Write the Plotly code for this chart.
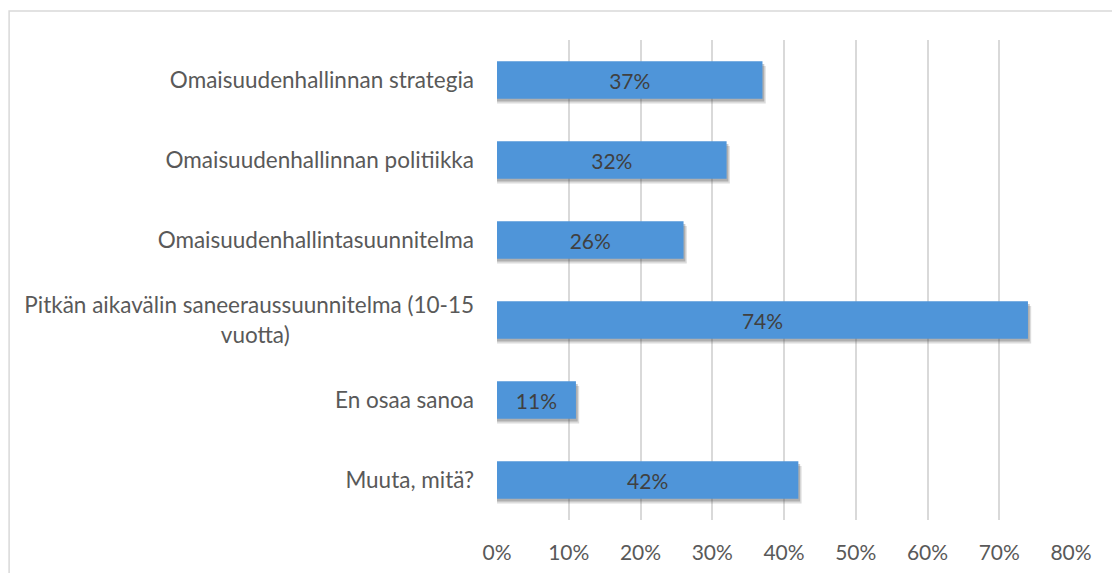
import plotly.graph_objects as go

categories = [
    "Omaisuudenhallinnan strategia",
    "Omaisuudenhallinnan politiikka",
    "Omaisuudenhallintasuunnitelma",
    "Pitkän aikavälin saneeraussuunnitelma (10-15<br>vuotta)" + "\u00a0" * 32,
    "En osaa sanoa",
    "Muuta, mitä?",
]
values = [37, 32, 26, 74, 11, 42]
labels = [f"{v}%" for v in values]
tick_vals = [0, 10, 20, 30, 40, 50, 60, 70, 80]
tick_text = [f"{v}%" for v in tick_vals]

FONT = "Lato"
bar_w = 0.47

fig = go.Figure()
# soft shadow
fig.add_trace(go.Bar(
    y=categories, x=[v + 0.45 for v in values], orientation="h",
    width=bar_w, offset=-bar_w / 2 + 0.06,
    marker=dict(color="rgba(60,60,60,0.18)", line=dict(width=0)),
    hoverinfo="skip", showlegend=False,
))
fig.add_trace(go.Bar(
    y=categories, x=[v + 0.25 for v in values], orientation="h",
    width=bar_w, offset=-bar_w / 2 + 0.035,
    marker=dict(color="rgba(60,60,60,0.28)", line=dict(width=0)),
    hoverinfo="skip", showlegend=False,
))
fig.add_trace(go.Bar(
    y=categories, x=values, orientation="h",
    width=bar_w, offset=-bar_w / 2,
    marker=dict(color="#4F95D9", line=dict(width=0)),
    text=labels, textposition="inside", insidetextanchor="middle",
    textfont=dict(family=FONT, size=21, color="#404040"),
    showlegend=False,
))

fig.update_layout(
    width=1120, height=573,
    margin=dict(l=489, r=57, t=32, b=61),
    paper_bgcolor="white", plot_bgcolor="white",
    barmode="overlay",
    font=dict(family=FONT, size=22.5, color="#595959"),
    xaxis=dict(
        range=[0, 80], tickvals=tick_vals, ticktext=tick_text,
        tickfont=dict(size=21),
        showgrid=True, gridcolor="#D9D9D9", gridwidth=1.5,
        zeroline=False, showline=False, ticks="", ticklabelstandoff=18,
        fixedrange=True,
    ),
    yaxis=dict(
        autorange="reversed", showgrid=False, zeroline=False,
        showline=False, ticks="", ticklabelstandoff=22,
    ),
    shapes=[dict(
        type="rect", xref="paper", yref="paper",
        x0=-0.850, x1=1.2, y0=-0.2, y1=1.0604,
        line=dict(color="#D9D9D9", width=1.5), fillcolor="rgba(0,0,0,0)",
        layer="below",
    )],
)

fig.write_html("out.html")
